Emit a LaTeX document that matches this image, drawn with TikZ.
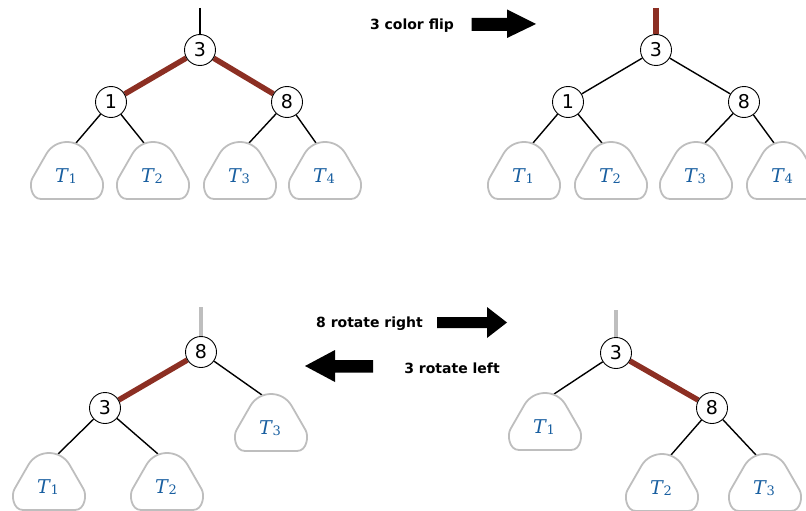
\documentclass[tikz,border=0pt]{standalone}
\usepackage{fontspec}
\newfontfamily\lblfont{DejaVu Sans}
\newfontfamily\tfont{DejaVu Serif}
\usetikzlibrary{backgrounds}
\definecolor{edgered}{RGB}{140,47,35}
\definecolor{tblue}{RGB}{25,95,160}
\definecolor{trigray}{RGB}{190,190,190}
\tikzset{
 key/.style={circle,draw,line width=0.9pt,fill=white,minimum size=31pt,inner sep=0pt,font=\fontsize{19}{19}\lblfont},
 blk/.style={line width=1.4pt},
 redge/.style={line width=5.5pt,draw=edgered},
 groot/.style={line width=4pt,draw=trigray},
 tri/.style={draw=trigray,line width=1.8pt},
 tlabel/.style={text=tblue,font=\fontsize{19}{19}\tfont,inner sep=0pt,anchor=base},
 arrtext/.style={font=\fontsize{14}{16}\lblfont\bfseries,anchor=base,inner sep=0pt},
}
\newcommand\tsub[1]{\textit{T}\kern-0.5pt\raisebox{-1.5pt}{\fontsize{13}{13}\selectfont #1}}
\newcommand\subtree[4]{%
 \draw[tri] (#2,#3+57) -- (#2-26,#3+57)
   .. controls (#2-36,#3+57) and (#2-38,#3+42) .. (#2-34.5,#3+36)
   -- (#2-20.7,#3+12)
   .. controls (#2-11.5,#3-4) and (#2+11.5,#3-4) .. (#2+20.7,#3+12)
   -- (#2+34.5,#3+36)
   .. controls (#2+38,#3+42) and (#2+36,#3+57) .. (#2+26,#3+57) -- cycle;
 \node[tlabel] (#1) at (#2-1,#3+40) {\tsub{#4}};
 \coordinate (#1l) at (#2-9,#3+1);
 \coordinate (#1r) at (#2+9,#3+1);
}
\begin{document}
\begin{tikzpicture}[x=1pt,y=-1pt]
\useasboundingbox (0,0) rectangle (806,511);
% ---------- top left
\node[key] (a3) at (200,50) {3};
\node[key] (a1) at (111,102) {1};
\node[key] (a8) at (287,102) {8};
\coordinate (aroot) at (200,8);
\subtree{aT1}{67}{142}{1}
\subtree{aT2}{153}{142}{2}
\subtree{aT3}{240}{142}{3}
\subtree{aT4}{325}{142}{4}
% ---------- top right
\node[key] (b3) at (656,50) {3};
\node[key] (b1) at (568,102) {1};
\node[key] (b8) at (744,102) {8};
\coordinate (broot) at (656,8);
\subtree{bT1}{524}{142}{1}
\subtree{bT2}{611}{142}{2}
\subtree{bT3}{696}{142}{3}
\subtree{bT4}{783}{142}{4}
% ---------- bottom left
\node[key] (c8) at (201,352) {8};
\node[key] (c3) at (105,408) {3};
\coordinate (croot) at (201,307);
\subtree{cT3}{271}{394}{3}
\subtree{cT1}{49}{453}{1}
\subtree{cT2}{167}{453}{2}
% ---------- bottom right
\node[key] (d3) at (616,353) {3};
\node[key] (d8) at (712,408) {8};
\coordinate (droot) at (616,310);
\subtree{dT1}{545}{393}{1}
\subtree{dT2}{662}{454}{2}
\subtree{dT3}{765}{454}{3}
% ---------- edges
\begin{pgfonlayer}{background}
\draw[blk] (aroot) -- (a3);
\draw[redge] (a3) -- (a1);
\draw[redge] (a3) -- (a8);
\draw[blk] (a1) -- (aT1r);
\draw[blk] (a1) -- (aT2l);
\draw[blk] (a8) -- (aT3r);
\draw[blk] (a8) -- (aT4l);
\draw[redge] (broot) -- (b3);
\draw[blk] (b3) -- (b1);
\draw[blk] (b3) -- (b8);
\draw[blk] (b1) -- (bT1r);
\draw[blk] (b1) -- (bT2l);
\draw[blk] (b8) -- (bT3r);
\draw[blk] (b8) -- (bT4l);
\draw[groot] (croot) -- (c8);
\draw[redge] (c8) -- (c3);
\draw[blk] (c8) -- (cT3l);
\draw[blk] (c3) -- (cT1r);
\draw[blk] (c3) -- (cT2l);
\draw[groot] (droot) -- (d3);
\draw[blk] (d3) -- (dT1r);
\draw[redge] (d3) -- (d8);
\draw[blk] (d8) -- (dT2r);
\draw[blk] (d8) -- (dT3l);
\end{pgfonlayer}
% ---------- arrows and texts
\fill (471.7,18) -- (507,18) -- (507,9.5) -- (536,24) -- (507,38) -- (507,31) -- (471.7,31) -- cycle;
\fill (437,317) -- (487,317) -- (487,307) -- (507,322.5) -- (487,338) -- (487,328) -- (437,328) -- cycle;
\fill (373,360) -- (335,360) -- (335,350) -- (305,366) -- (335,382) -- (335,372.5) -- (373,372.5) -- cycle;
\node[arrtext] (flip) at (412,30) {3 color flip};
\node[arrtext] (rotr) at (369.5,327) {8 rotate right};
\node[arrtext] (rotl) at (452,373) {3 rotate left};
\end{tikzpicture}
\end{document}
